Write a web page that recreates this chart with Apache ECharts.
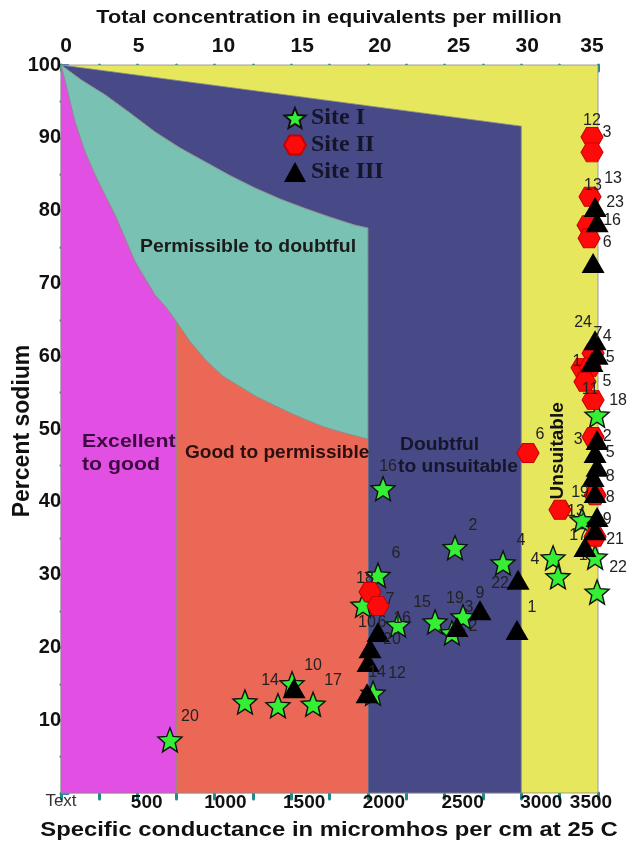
<!DOCTYPE html>
<html>
<head>
<meta charset="utf-8">
<script src="https://cdn.jsdelivr.net/npm/echarts@6/dist/echarts.min.js"></script>
<style>
  html, body { margin: 0; padding: 0; background: #ffffff; }
  #chart { width: 629px; height: 845px; }
</style>
</head>
<body>
<div id="chart"></div>
<script>
// Wilcox diagram: specific conductance (µmhos/cm at 25 C) against percent sodium.

// ---- sample points: [conductance, percent sodium, sample id] ----
const siteI = [
  [710, 7.3, '20'], [1199, 12.5, ''], [1414, 12.0, ''], [1643, 12.2, '17'],
  [1506, 15.0, '14'], [2034, 13.7, '12'], [2099, 41.8, '16'], [2568, 33.7, '2'],
  [2881, 31.6, '4'], [2066, 29.9, '6'], [1968, 25.8, '18'], [2197, 23.1, '16'],
  [2438, 23.5, '15'], [2620, 24.2, '19'], [2548, 22.0, '2'], [3207, 32.3, '4'],
  [3239, 29.7, ''], [3396, 37.5, ''], [3481, 32.4, '1'], [3494, 27.6, '22'],
  [3494, 51.9, '18']
];
const siteII = [
  [3461, 90.1, '12'], [3461, 88.0, '3'], [3448, 81.9, '13'], [3435, 78.0, '16'],
  [3442, 76.2, '6'], [3468, 60.4, '5'], [3396, 58.4, '1'], [3448, 58.5, ''],
  [3415, 56.5, '5'], [3468, 54.0, '11'], [3044, 46.7, '6'], [3468, 48.9, '2'],
  [3481, 40.9, '8'], [3252, 38.9, '13'], [3481, 35.2, '21'], [2014, 27.6, '7'],
  [2066, 25.7, '10']
];
const siteIII = [
  [3481, 80.5, '13'], [3494, 78.4, '23'], [3468, 72.8, ''], [3481, 62.2, '24'],
  [3494, 60.2, '4'], [3461, 59.2, '7'], [3494, 48.5, '3'], [3481, 46.7, '5'],
  [3494, 44.8, ''], [3468, 43.4, '8'], [3481, 41.2, '19'], [3494, 37.9, '9'],
  [3481, 36.1, '17'], [3415, 33.8, ''], [2979, 29.3, '22'], [2972, 22.4, '1'],
  [2731, 25.1, '9'], [2581, 22.8, '3'], [2066, 22.1, '6'], [2014, 19.9, '20'],
  [2001, 18.0, ''], [1519, 14.4, '10'], [1995, 13.7, '14']
];

// ---- class boundaries (conductance, percent sodium) ----
const doubtfulTop = [[0, 100], [3000, 91.6]];
const permissibleTop = [[0, 100], [135, 97.9], [287, 95.9], [450, 93.4], [613, 90.8], [776, 88.6],
  [939, 86.7], [1102, 84.8], [1264, 83.1], [1427, 81.6], [1590, 80.3], [1753, 79.1], [1916, 78.0], [2000, 77.6]];
const excellentTop = [[0, 100], [48, 95.9], [91, 92.2], [156, 88.1], [222, 84.9], [287, 82.1],
  [352, 79.4], [417, 76.2], [482, 73.0], [547, 70.7], [613, 68.4], [689, 66.6], [750, 64.8]];
const goodTop = [[750, 64.8], [841, 62.0], [950, 59.3], [1058, 57.2], [1167, 55.8], [1276, 54.4],
  [1384, 53.3], [1493, 52.2], [1602, 51.2], [1710, 50.3], [1819, 49.6], [1927, 49.0], [2000, 48.6]];

// ---- axis ticks ----
const conductanceMax = 3500;
const conductanceStep = 500;
const epmMax = 35;
const epmStep = 5;
const sodiumStep = 10;

const rev = a => a.slice().reverse();
const zones = [
  { fill: '#e6e75c', pts: [[0, 0], [3500, 0], [3500, 100], [0, 100]] },
  { fill: '#474a87', pts: [...doubtfulTop, [3000, 0], [2000, 0], ...rev(permissibleTop)] },
  { fill: '#79c1b2', pts: [...permissibleTop, [2000, 48.6], ...rev(goodTop), ...rev(excellentTop)] },
  { fill: '#ec6856', pts: [[750, 0], ...goodTop, [2000, 0]] },
  { fill: '#e24fe3', pts: [[0, 0], ...excellentTop, [750, 0]] }
];

const zoneText = [
  { text: 'Permissible to doubtful', at: [515, 75.0], size: 18, sx: 1.08, color: '#1b1b1b' },
  { text: 'Excellent', at: [137, 48.2], size: 19, sx: 1.12, color: '#3d0a40' },
  { text: 'to good', at: [137, 45.1], size: 19, sx: 1.12, color: '#3d0a40' },
  { text: 'Good to permissible', at: [808, 46.7], size: 18, sx: 1.06, color: '#2a0f0f' },
  { text: 'Doubtful', at: [2210, 47.8], size: 18, sx: 1.07, color: '#16162b' },
  { text: 'to unsuitable', at: [2197, 44.8], size: 18, sx: 1.07, color: '#16162b' },
  { text: 'Unsuitable', at: [3239, 47.0], size: 19, sx: 1, color: '#111111', vertical: true }
];

// label placement around crowded markers
const defaultOffset = [18, -22];
const offsI = {0:[20,-23],3:[20,-24],4:[-22,-3],5:[24,-20],6:[5,-22],10:[2,-27],11:[4,-6],12:[-13,-19],
  13:[-8,-18],14:[21,-6],15:[-18,2],18:[-12,-2],19:[21,-24],20:[21,-15]};
const offsII = {0:[0,-16],1:[15,-20],2:[3,-11],3:[24,-5],4:[18,4],5:[17,4],6:[-5,-6],8:[22,0],9:[-3,-10],
  10:[12,-18],11:[14,0],12:[15,2],13:[16,2],14:[20,3],15:[20,8],16:[-11,17]};
const offsIII = {0:[18,-28],1:[18,-20],3:[-12,-18],4:[10,-18],5:[6,-28],6:[-19,0],7:[15,0],9:[17,0],
  10:[-15,0],11:[10,3],12:[-17,5],14:[-18,4],15:[15,-22],16:[0,-17],17:[12,-19],18:[4,-10],19:[22,-9],
  21:[19,-23],22:[10,-21]};

function points(arr, offs) {
  return arr.map((d, i) => ({
    value: d,
    label: { show: d[2] !== '', offset: offs[i] || defaultOffset }
  }));
}

const STAR = 'path://M50,2 L62.9,34.2 L97.6,36.5 L70.9,58.8 L79.4,92.5 L50,74 L20.6,92.5 L29.1,58.8 L2.4,36.5 L37.1,34.2 Z';
const HEX = 'path://M25,0 L75,0 L100,43.3 L75,86.6 L25,86.6 L0,43.3 Z';

const SANS = '"Liberation Sans", Arial, sans-serif';

// shift individual tick labels sideways with rich-text padding
function shifted(shift) {
  const rich = {};
  Object.keys(shift).forEach(k => {
    const d = shift[k];
    rich['s' + k] = { padding: d >= 0 ? [0, 0, 0, 2 * d] : [0, -2 * d, 0, 0] };
  });
  return rich;
}
const bottomShift = { 0: 0, 500: 9, 1000: 11, 1500: 13, 2000: 16, 2500: 18, 3000: 20, 3500: -7 };
const topShift = { 0: 5, 5: 1, 10: 9, 15: 11, 20: 12, 25: 14, 30: 6, 35: -6 };

const tickTeal = { color: '#1d8c8c', width: 3, cap: 'round' };
const tickBlue = { color: '#3a78b2', width: 3, cap: 'round' };

const labelStyle = { color: '#222', fontSize: 16, fontFamily: SANS, formatter: p => p.value[2] };

function title(text, x, y, size, sx, rotate) {
  return {
    type: 'text', x: x, y: y, scaleX: rotate ? 1 : sx, scaleY: rotate ? sx : 1,
    rotation: rotate ? Math.PI / 2 : 0, z: 10,
    style: { text: text, fill: '#111', font: 'bold ' + size + 'px ' + SANS, align: 'center', verticalAlign: 'middle' }
  };
}

const chart = echarts.init(document.getElementById('chart'), null, { renderer: 'canvas' });
chart.setOption({
  animation: false,
  backgroundColor: '#ffffff',
  grid: { left: 61, right: 31, top: 65, bottom: 52, show: false, outerBoundsMode: 'none' },
  graphic: [
    title('Total concentration in equivalents per million', 329, 18, 19, 1.14, false),
    title('Specific conductance in micromhos per cm at 25 C', 329, 830, 21, 1.135, false),
    title('Percent sodium', 22, 431, 23, 1.05, true)
  ],
  legend: {
    orient: 'vertical', left: 278, top: 101, itemWidth: 22, itemHeight: 20, itemGap: 3,
    textStyle: { fontFamily: '"Liberation Serif", "Times New Roman", serif', fontWeight: 'bold', fontSize: 24, color: '#15152a' },
    data: ['Site I', 'Site II', 'Site III']
  },
  xAxis: [
    {
      type: 'value', position: 'bottom', min: 0, max: conductanceMax, interval: conductanceStep,
      axisLine: { show: false }, splitLine: { show: false },
      axisTick: { show: true, length: 6, lineStyle: tickTeal },
      minorTick: { show: true, splitNumber: 2, length: 6, lineStyle: tickTeal },
      axisLabel: {
        margin: 0, showMinLabel: true, showMaxLabel: true,
        fontSize: 19, fontWeight: 'bold', color: '#111', fontFamily: SANS,
        formatter: v => v === 0 ? '{t|Text}' : '{s' + v + '|' + v + '}',
        rich: Object.assign(shifted(bottomShift), {
          t: { fontSize: 17, fontWeight: 'normal', color: '#333', fontFamily: SANS, padding: [0, 0, 12, 0] }
        })
      }
    },
    {
      type: 'value', position: 'top', min: 0, max: epmMax, interval: epmStep,
      axisLine: { show: false }, splitLine: { show: false },
      axisTick: { show: true, inside: true, length: 6, lineStyle: tickTeal },
      minorTick: { show: true, splitNumber: 2, length: 6, lineStyle: tickTeal },
      axisLabel: {
        margin: 8, showMinLabel: true, showMaxLabel: true,
        fontSize: 21, fontWeight: 'bold', color: '#111', fontFamily: SANS,
        formatter: v => '{s' + v + '|' + v + '}',
        rich: shifted(topShift)
      }
    }
  ],
  yAxis: {
    type: 'value', min: 0, max: 100, interval: sodiumStep,
    axisLine: { show: false }, splitLine: { show: false },
    axisTick: { show: true, inside: true, length: 7, lineStyle: tickBlue },
    minorTick: { show: true, splitNumber: 2, length: 7, lineStyle: tickBlue },
    axisLabel: {
      margin: 0, fontSize: 20, fontWeight: 'bold', color: '#111', fontFamily: SANS,
      formatter: v => v === 0 ? '' : String(v)
    }
  },
  series: [
    {
      type: 'custom', name: 'zones', xAxisIndex: 0, yAxisIndex: 0, z: 1, silent: true,
      data: zones.map(() => [0, 0]),
      renderItem: (params, api) => {
        const z = zones[params.dataIndex];
        return {
          type: 'polygon',
          shape: { points: z.pts.map(p => api.coord(p)) },
          style: { fill: z.fill, stroke: '#8c8c8c', lineWidth: 0.8 }
        };
      }
    },
    {
      type: 'custom', name: 'zone names', xAxisIndex: 0, yAxisIndex: 0, z: 2, silent: true,
      data: zoneText.map(() => [0, 0]),
      renderItem: (params, api) => {
        const t = zoneText[params.dataIndex];
        const c = api.coord(t.at);
        return {
          type: 'text', x: c[0], y: c[1], rotation: t.vertical ? Math.PI / 2 : 0, scaleX: t.sx,
          style: {
            text: t.text, fill: t.color,
            font: 'bold ' + t.size + 'px ' + SANS,
            align: t.vertical ? 'center' : 'left', verticalAlign: 'middle'
          }
        };
      }
    },
    {
      type: 'scatter', name: 'Site I', xAxisIndex: 0, yAxisIndex: 0, z: 3,
      symbol: STAR, symbolSize: 24,
      itemStyle: { color: '#35ef35', borderColor: '#111', borderWidth: 1.4, opacity: 1 },
      label: Object.assign({ position: 'inside' }, labelStyle),
      data: points(siteI, offsI)
    },
    {
      type: 'scatter', name: 'Site II', xAxisIndex: 0, yAxisIndex: 0, z: 4,
      symbol: HEX, symbolSize: [22, 19],
      itemStyle: { color: '#ff0a0a', borderColor: '#c40000', borderWidth: 1, opacity: 1 },
      label: Object.assign({ position: 'inside' }, labelStyle),
      data: points(siteII, offsII)
    },
    {
      type: 'scatter', name: 'Site III', xAxisIndex: 0, yAxisIndex: 0, z: 5,
      symbol: 'triangle', symbolSize: [23, 20],
      itemStyle: { color: '#000000', opacity: 1 },
      label: Object.assign({ position: 'inside' }, labelStyle),
      data: points(siteIII, offsIII)
    }
  ]
});
</script>
</body>
</html>
